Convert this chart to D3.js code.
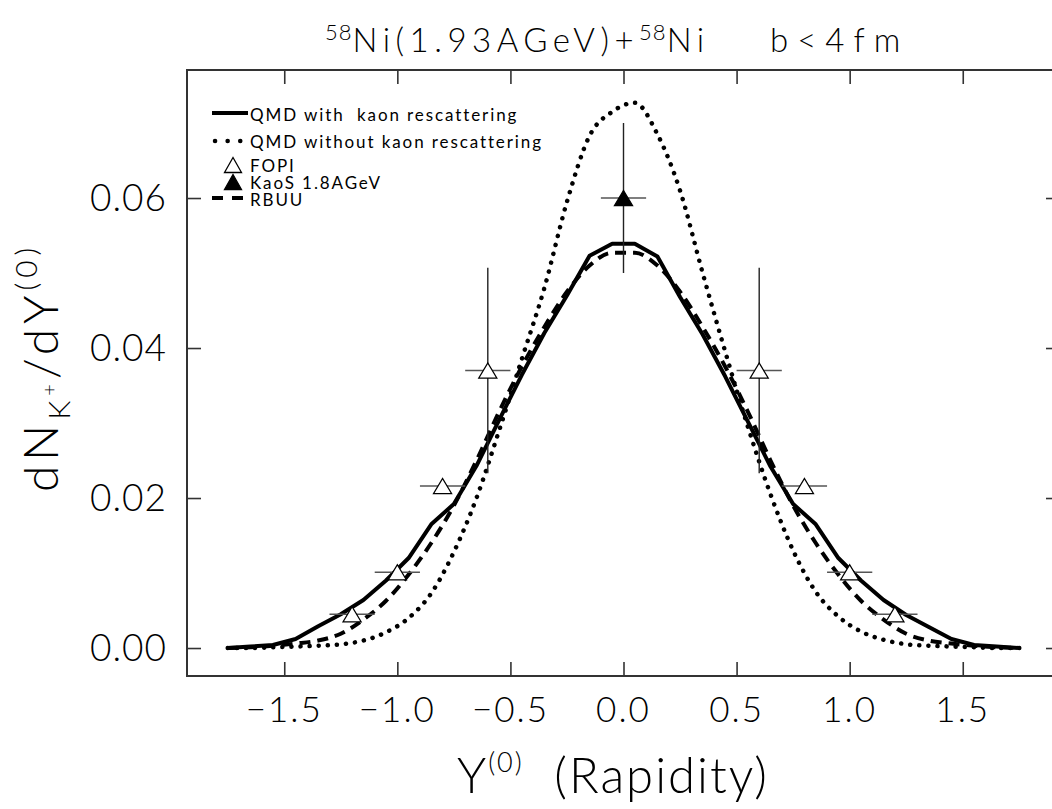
<!DOCTYPE html>
<html>
<head>
<meta charset="utf-8">
<script src="https://cdn.jsdelivr.net/npm/d3@7"></script>
<style>
  html, body { margin: 0; padding: 0; background: #fff; }
  svg text { font-family: Lato, Roboto, "DejaVu Sans", sans-serif; white-space: pre; }
  .light { font-weight: 300; }
</style>
</head>
<body>
<svg id="chart" width="1052" height="809"></svg>
<script>
// ---------------- data ----------------
const rapidity = [-1.75, -1.65, -1.55, -1.45, -1.35, -1.25, -1.15, -1.05, -0.95, -0.85, -0.75, -0.65, -0.55, -0.45, -0.35, -0.25, -0.15, -0.05,
                  0.05, 0.15, 0.25, 0.35, 0.45, 0.55, 0.65, 0.75, 0.85, 0.95, 1.05, 1.15, 1.25, 1.35, 1.45, 1.55, 1.65, 1.75];
const qmdWith = [0.0000, 0.0002, 0.0004, 0.0012, 0.0029, 0.0045, 0.0064, 0.0090, 0.0120, 0.0165, 0.0192, 0.0243, 0.0304, 0.0364, 0.0420, 0.0470, 0.0523, 0.0539,
                 0.0539, 0.0522, 0.0468, 0.0418, 0.0362, 0.0302, 0.0242, 0.0192, 0.0165, 0.0120, 0.0090, 0.0064, 0.0044, 0.0028, 0.0012, 0.0004, 0.0002, 0.0000];
const qmdWithout = [0.0000, 0.0000, 0.0001, 0.0002, 0.0003, 0.0005, 0.0010, 0.0021, 0.0040, 0.0073, 0.0128, 0.0200, 0.0290, 0.0385, 0.0480, 0.0595, 0.0683, 0.0715,
                    0.0727, 0.0685, 0.0610, 0.0500, 0.0395, 0.0295, 0.0205, 0.0130, 0.0075, 0.0042, 0.0022, 0.0011, 0.0005, 0.0003, 0.0002, 0.0001, 0.0000, 0.0000];
const rbuu = [0.0000, 0.0001, 0.0003, 0.0006, 0.0010, 0.0019, 0.0038, 0.0063, 0.0098, 0.0140, 0.0190, 0.0250, 0.0315, 0.0375, 0.0428, 0.0475, 0.0510, 0.0527,
              0.0527, 0.0510, 0.0475, 0.0428, 0.0375, 0.0315, 0.0250, 0.0190, 0.0140, 0.0098, 0.0063, 0.0038, 0.0019, 0.0010, 0.0006, 0.0003, 0.0001, 0.0000];

const fopiY = [-1.2, -1.0, -0.8, -0.6, 0.6, 0.8, 1.0, 1.2];
const fopiVal = [0.0045, 0.0101, 0.0216, 0.0370, 0.0370, 0.0216, 0.0101, 0.0045];
const fopiXErr = [0.1, 0.1, 0.1, 0.1, 0.1, 0.1, 0.1, 0.1];
const fopiYErr = [0, 0, 0, 0.0137, 0.0137, 0, 0, 0];

const kaosY = [0.0];
const kaosVal = [0.060];
const kaosXErr = [0.1];
const kaosYErr = [0.010];

const xTicks = [-1.5, -1.0, -0.5, 0.0, 0.5, 1.0, 1.5];
const xTickLabels = ["\u22121.5", "\u22121.0", "\u22120.5", "0.0", "0.5", "1.0", "1.5"];
const yTicks = [0.00, 0.02, 0.04, 0.06];
const yTickLabels = ["0.00", "0.02", "0.04", "0.06"];

const legendLabels = ["QMD with  kaon rescattering", "QMD without kaon rescattering", "FOPI", "KaoS 1.8AGeV", "RBUU"];

// ---------------- layout ----------------
const svg = d3.select("#chart");
const mLeft = 187, mRight = 1060, mTop = 70, mBottom = 676;
const x = d3.scaleLinear().domain([-1.93, 1.93]).range([mLeft, mRight]);
const y = d3.scaleLinear().domain([-0.00373, 0.07707]).range([mBottom, mTop]);

svg.append("rect").attr("width", 1052).attr("height", 809).attr("fill", "#fff");

// frame
svg.append("rect").attr("x", mLeft).attr("y", mTop).attr("width", mRight - mLeft).attr("height", mBottom - mTop)
  .attr("fill", "none").attr("stroke", "#333").attr("stroke-width", 2);

// axes (ticks inside)
const tickLen = 14;
const gxB = svg.append("g").attr("transform", `translate(0,${mBottom})`)
  .call(d3.axisBottom(x).tickValues(xTicks).tickSizeInner(-tickLen).tickSizeOuter(0).tickFormat(""));
const gxT = svg.append("g").attr("transform", `translate(0,${mTop})`)
  .call(d3.axisTop(x).tickValues(xTicks).tickSizeInner(-tickLen).tickSizeOuter(0).tickFormat(""));
const gyL = svg.append("g").attr("transform", `translate(${mLeft},0)`)
  .call(d3.axisLeft(y).tickValues(yTicks).tickSizeInner(-tickLen).tickSizeOuter(0).tickFormat(""));
const gyR = svg.append("g").attr("transform", `translate(${mRight},0)`)
  .call(d3.axisRight(y).tickValues(yTicks).tickSizeInner(-tickLen).tickSizeOuter(0).tickFormat(""));
[gxB, gxT, gyL, gyR].forEach(g => {
  g.select(".domain").remove();
  g.selectAll(".tick line").attr("stroke", "#333").attr("stroke-width", 1.6);
});

// tick labels
svg.append("g").selectAll("text").data(xTicks).join("text")
  .attr("class", "light")
  .attr("x", d => x(d)).attr("y", 722)
  .attr("text-anchor", "middle").attr("font-size", 35)
  .attr("letter-spacing", 2)
  .text((d, i) => xTickLabels[i]);
svg.append("g").selectAll("text").data(yTicks).join("text")
  .attr("class", "light")
  .attr("x", 167).attr("y", d => y(d) + 13)
  .attr("text-anchor", "end").attr("font-size", 37)
  .attr("letter-spacing", 1)
  .text((d, i) => yTickLabels[i]);

// title
const t1 = svg.append("text").attr("class", "light").attr("x", 325).attr("y", 52).attr("font-size", 33).attr("letter-spacing", 5.5);
t1.append("tspan").attr("font-size", 22).attr("dy", -12).attr("letter-spacing", 1).text("58");
t1.append("tspan").attr("dy", 12).text("Ni(1.93AGeV)+");
t1.append("tspan").attr("font-size", 22).attr("dy", -12).attr("letter-spacing", 1).text("58");
t1.append("tspan").attr("dy", 12).text("Ni");
svg.append("text").attr("class", "light").attr("x", 770).attr("y", 52).attr("font-size", 33).attr("letter-spacing", 9).text("b<4fm");

// x-axis title
const xt = svg.append("text").attr("class", "light").attr("x", 457).attr("y", 793).attr("font-size", 49).attr("letter-spacing", 2);
xt.append("tspan").text("Y");
xt.append("tspan").attr("font-size", 27).attr("dy", -21).text("(0)");
xt.append("tspan").attr("dy", 21).text("  (Rapidity)");

// y-axis title
const yt = svg.append("text").attr("class", "light").attr("transform", "translate(58,492) rotate(-90)")
  .attr("font-size", 48).attr("letter-spacing", 5);
yt.append("tspan").text("dN");
yt.append("tspan").attr("font-size", 30).attr("dy", 12).text("K");
yt.append("tspan").attr("font-size", 20).attr("dy", -14).text("+");
yt.append("tspan").attr("dy", 2).text("/dY");
yt.append("tspan").attr("font-size", 30).attr("dy", -21).text("(0)");

// curves
const pts = vals => rapidity.map((r, i) => [r, vals[i]]);
const lineLin = d3.line().x(d => x(d[0])).y(d => y(d[1]));
const lineSmooth = d3.line().x(d => x(d[0])).y(d => y(d[1])).curve(d3.curveMonotoneX);

svg.append("path").attr("d", lineSmooth(pts(qmdWithout))).attr("fill", "none")
  .attr("stroke", "#000").attr("stroke-width", 4.5).attr("stroke-linecap", "round").attr("stroke-dasharray", "0.1,9");
svg.append("path").attr("d", lineSmooth(pts(rbuu))).attr("fill", "none")
  .attr("stroke", "#000").attr("stroke-width", 4).attr("stroke-dasharray", "11,7");
svg.append("path").attr("d", lineLin(pts(qmdWith))).attr("fill", "none")
  .attr("stroke", "#000").attr("stroke-width", 4).attr("stroke-linejoin", "round");

// error bars + markers
const tri = (cx, cy, w, h) => `M${cx - w / 2},${cy + h / 2}L${cx + w / 2},${cy + h / 2}L${cx},${cy - h / 2}Z`;

function drawPoints(xs, vs, xe, ye, filled) {
  const g = svg.append("g");
  xs.forEach((r, i) => {
    g.append("line").attr("x1", x(r - xe[i])).attr("x2", x(r + xe[i])).attr("y1", y(vs[i])).attr("y2", y(vs[i]))
      .attr("stroke", "#555").attr("stroke-width", 1.6);
    if (ye[i] > 0) {
      g.append("line").attr("x1", x(r)).attr("x2", x(r)).attr("y1", y(vs[i] - ye[i])).attr("y2", y(vs[i] + ye[i]))
        .attr("stroke", "#222").attr("stroke-width", 1.4);
    }
    g.append("path").attr("d", tri(x(r), y(vs[i]), 18, 15))
      .attr("fill", filled ? "#000" : "#fff").attr("stroke", "#000").attr("stroke-width", 1.3);
  });
}
drawPoints(fopiY, fopiVal, fopiXErr, fopiYErr, false);
drawPoints(kaosY, kaosVal, kaosXErr, kaosYErr, true);

// legend
const lg = svg.append("g");
lg.append("line").attr("x1", 212).attr("x2", 248).attr("y1", 113).attr("y2", 113).attr("stroke", "#000").attr("stroke-width", 4);
lg.append("line").attr("x1", 215).attr("x2", 245).attr("y1", 141).attr("y2", 141).attr("stroke", "#000").attr("stroke-width", 4.5)
  .attr("stroke-linecap", "round").attr("stroke-dasharray", "0.1,12.5");
lg.append("path").attr("d", tri(233, 165, 17, 15)).attr("fill", "#fff").attr("stroke", "#000").attr("stroke-width", 1.3);
lg.append("path").attr("d", tri(233, 182, 17, 15)).attr("fill", "#000").attr("stroke", "#000").attr("stroke-width", 1.3);
lg.append("line").attr("x1", 212).attr("x2", 246).attr("y1", 198).attr("y2", 198).attr("stroke", "#000").attr("stroke-width", 4)
  .attr("stroke-dasharray", "11,9");
const legendY = [121, 148, 172, 189, 206];
lg.selectAll("text").data(legendLabels).join("text")
  .attr("x", 250).attr("y", (d, i) => legendY[i]).attr("font-size", 17).attr("letter-spacing", 1.9)
  .text(d => d);
</script>
</body>
</html>
